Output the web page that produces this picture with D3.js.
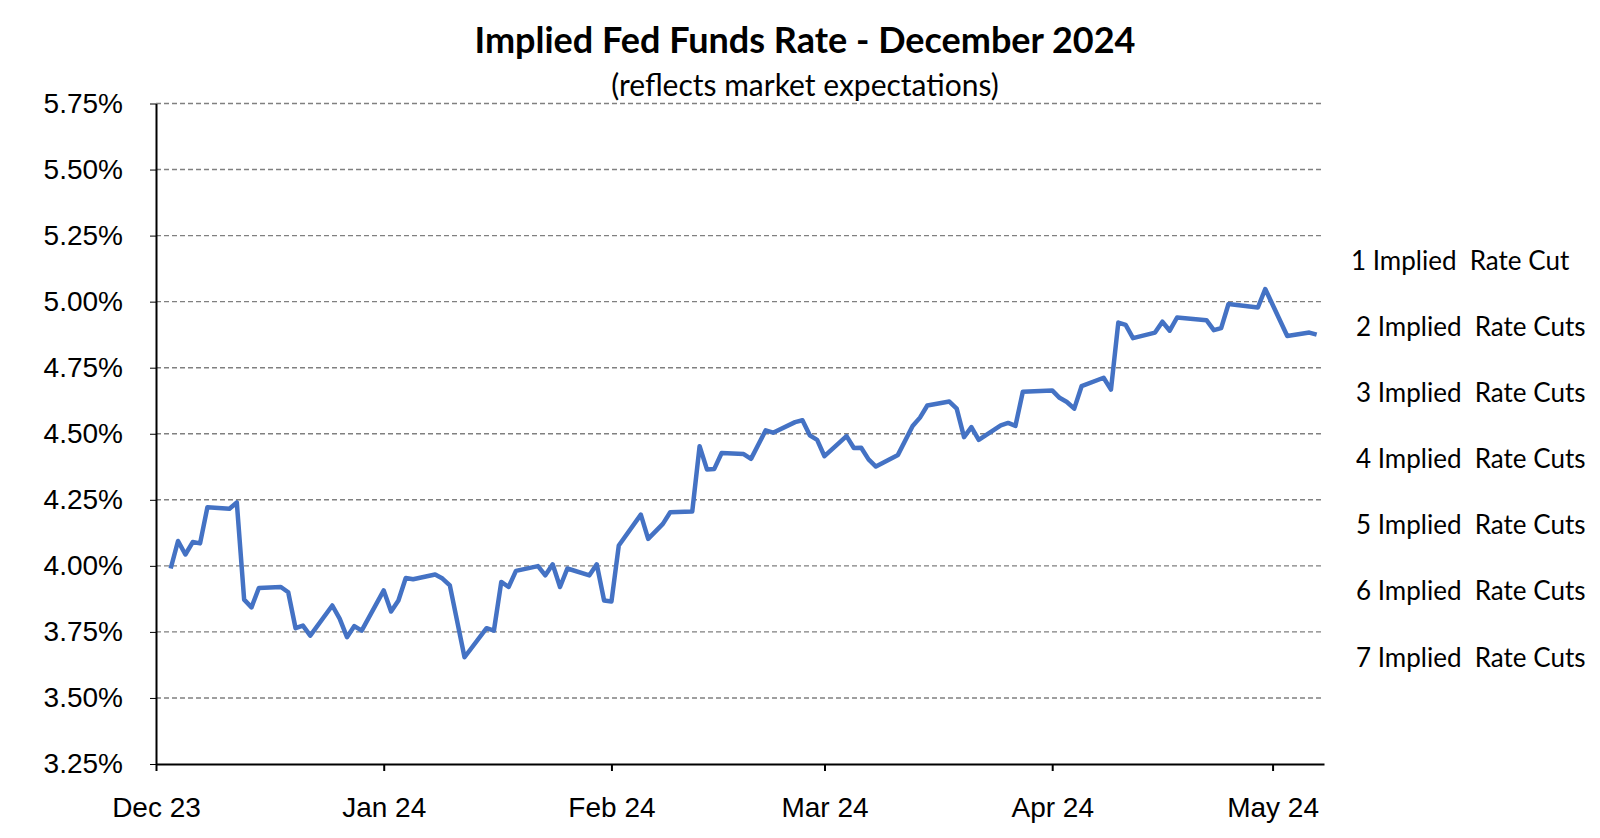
<!DOCTYPE html>
<html><head><meta charset="utf-8">
<script src="https://cdn.jsdelivr.net/npm/d3@7"></script>
<style>body{margin:0;background:#fff}</style>
</head><body><svg id="c" width="1600" height="838"></svg>
<script>
// data
const dates = ["2023-12-03","2023-12-04","2023-12-05","2023-12-06","2023-12-07","2023-12-08","2023-12-11","2023-12-12","2023-12-13","2023-12-14","2023-12-15","2023-12-18","2023-12-19","2023-12-20","2023-12-21","2023-12-22","2023-12-25","2023-12-26","2023-12-27","2023-12-28","2023-12-29","2024-01-01","2024-01-02","2024-01-03","2024-01-04","2024-01-05","2024-01-08","2024-01-09","2024-01-10","2024-01-12","2024-01-15","2024-01-16","2024-01-17","2024-01-18","2024-01-19","2024-01-22","2024-01-23","2024-01-24","2024-01-25","2024-01-26","2024-01-29","2024-01-30","2024-01-31","2024-02-01","2024-02-02","2024-02-05","2024-02-06","2024-02-08","2024-02-09","2024-02-12","2024-02-13","2024-02-14","2024-02-15","2024-02-16","2024-02-19","2024-02-20","2024-02-22","2024-02-23","2024-02-26","2024-02-27","2024-02-28","2024-02-29","2024-03-01","2024-03-04","2024-03-05","2024-03-06","2024-03-07","2024-03-08","2024-03-11","2024-03-13","2024-03-14","2024-03-15","2024-03-18","2024-03-19","2024-03-20","2024-03-21","2024-03-22","2024-03-25","2024-03-26","2024-03-27","2024-03-28","2024-04-01","2024-04-02","2024-04-03","2024-04-04","2024-04-05","2024-04-08","2024-04-09","2024-04-10","2024-04-11","2024-04-12","2024-04-15","2024-04-16","2024-04-17","2024-04-18","2024-04-22","2024-04-23","2024-04-24","2024-04-25","2024-04-29","2024-04-30","2024-05-03","2024-05-06","2024-05-07"];
const rates = [3.99,4.094,4.043,4.09,4.085,4.222,4.216,4.24,3.872,3.843,3.916,3.92,3.90,3.764,3.774,3.736,3.85,3.80,3.73,3.772,3.755,3.907,3.827,3.869,3.954,3.949,3.967,3.952,3.926,3.654,3.764,3.755,3.939,3.92,3.981,3.999,3.964,4.006,3.92,3.99,3.964,4.006,3.869,3.865,4.077,4.194,4.102,4.159,4.203,4.206,4.453,4.365,4.367,4.427,4.423,4.405,4.513,4.504,4.544,4.551,4.494,4.477,4.415,4.491,4.446,4.447,4.403,4.376,4.42,4.529,4.561,4.607,4.622,4.595,4.487,4.525,4.477,4.532,4.541,4.53,4.659,4.664,4.636,4.62,4.595,4.68,4.712,4.667,4.921,4.912,4.862,4.883,4.924,4.89,4.94,4.93,4.892,4.90,4.991,4.978,5.048,4.87,4.883,4.875];
const yTicks = [3.25,3.5,3.75,4.0,4.25,4.5,4.75,5.0,5.25,5.5,5.75];
const monthTicks = ["2023-12-01","2024-01-01","2024-02-01","2024-03-01","2024-04-01","2024-05-01"];
const cutLabels = ["1 Implied  Rate Cut","2 Implied  Rate Cuts","3 Implied  Rate Cuts","4 Implied  Rate Cuts","5 Implied  Rate Cuts","6 Implied  Rate Cuts","7 Implied  Rate Cuts"];
const cutLevels = [5.125,4.875,4.625,4.375,4.125,3.875,3.625];

const parse = d3.timeParse("%Y-%m-%d");
const svg = d3.select("#c");
const m = {l:156, r:1324, t:103.5, b:764};
const x = d3.scaleTime().domain([parse("2023-12-01"), parse("2024-05-08")]).range([m.l, m.r]);
const y = d3.scaleLinear().domain([3.25,5.75]).range([m.b, m.t]);
const font = "Lato, 'Open Sans', sans-serif";
const tickFont = "'Liberation Sans', Arial, sans-serif";

svg.append("g").selectAll("line").data(yTicks.slice(1)).join("line")
  .attr("x1", m.l).attr("x2", m.r).attr("y1", d => y(d)).attr("y2", d => y(d))
  .attr("stroke", "#808080").attr("stroke-width", 1.4).attr("stroke-dasharray", "5,3");

const ya = svg.append("g").attr("transform", `translate(${m.l},0)`)
  .call(d3.axisLeft(y).tickValues(yTicks).tickFormat(d => d.toFixed(2) + "%").tickSize(6).tickSizeOuter(0));
ya.select(".domain").attr("stroke", "#000").attr("stroke-width", 2);
ya.selectAll("text").attr("font-family", tickFont).attr("font-size", 28).attr("fill", "#000").attr("dx", -24);

const xa = svg.append("g").attr("transform", `translate(0,${m.b})`)
  .call(d3.axisBottom(x).tickValues(monthTicks.map(parse)).tickFormat(d3.timeFormat("%b %y")).tickSize(7).tickSizeOuter(0));
xa.select(".domain").attr("stroke", "#000").attr("stroke-width", 2);
xa.selectAll("line").attr("stroke-width", 2);
xa.selectAll("text").attr("font-family", tickFont).attr("font-size", 28).attr("fill", "#000")
  .attr("y", 53).attr("dy", null);

const pts = dates.map((d, i) => [parse(d), rates[i]]);
svg.append("path").datum(pts)
  .attr("fill", "none").attr("stroke", "#4472C4").attr("stroke-width", 4.5).attr("stroke-linejoin", "round")
  .attr("d", d3.line().x(d => x(d[0])).y(d => y(d[1])));

svg.append("g").selectAll("text").data(cutLabels).join("text")
  .attr("x", (d, i) => i === 0 ? 1351 : 1356).attr("y", (d, i) => y(cutLevels[i]) - 5)
  .attr("dominant-baseline", "middle").attr("font-family", font).attr("font-size", 26)
  .style("white-space", "pre").text(d => d);

svg.append("text").attr("x", 805).attr("y", 53).attr("text-anchor", "middle")
  .attr("font-family", font).attr("font-weight", "bold").attr("font-size", 36).text("Implied Fed Funds Rate - December 2024");
svg.append("text").attr("x", 805).attr("y", 96).attr("text-anchor", "middle")
  .attr("font-family", font).attr("font-size", 30).text("(reflects market expectations)");
</script></body></html>
